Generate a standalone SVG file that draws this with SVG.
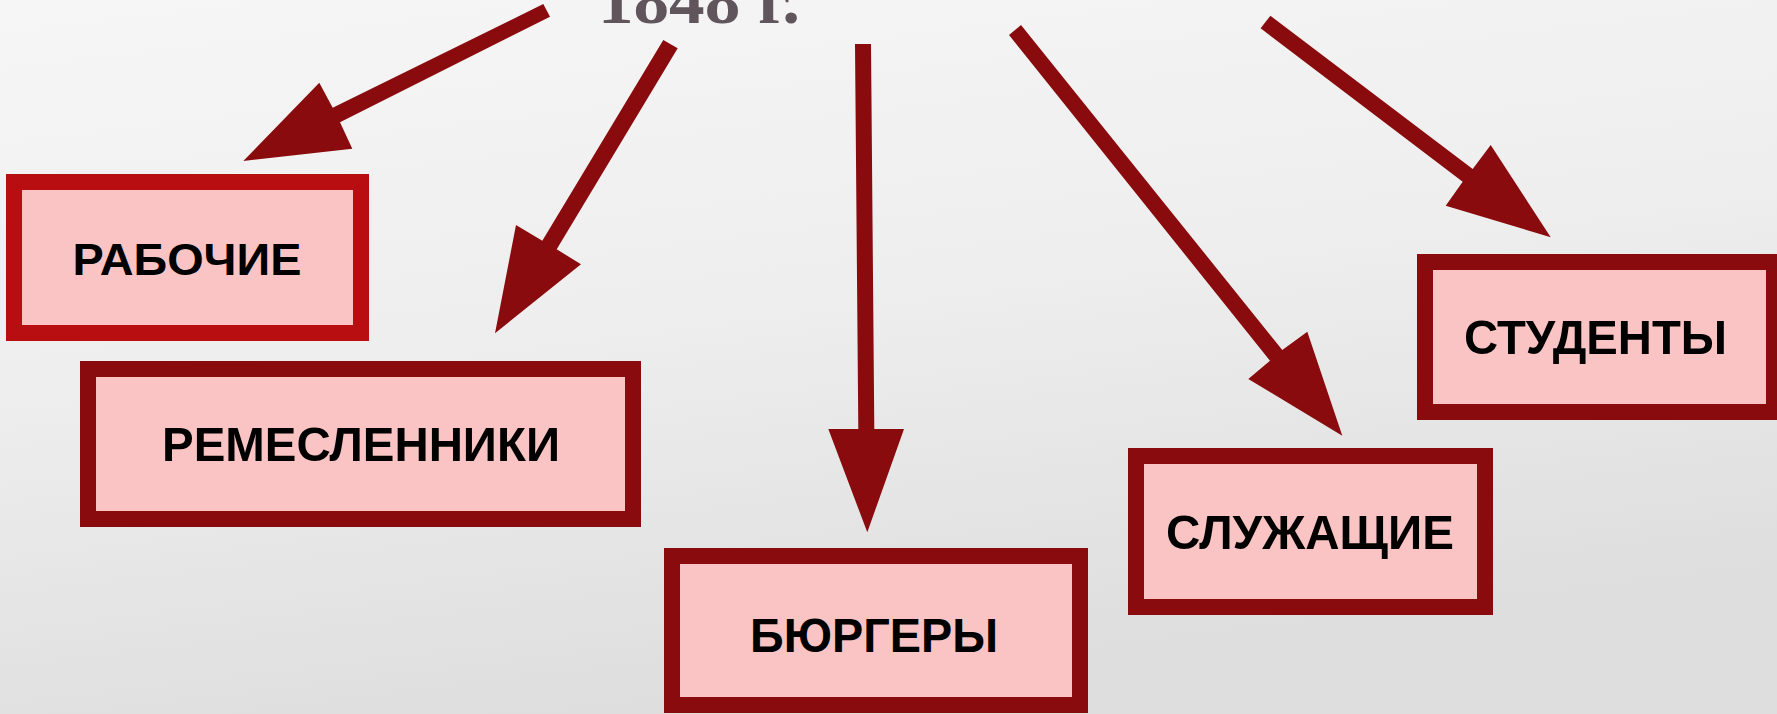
<svg xmlns="http://www.w3.org/2000/svg" width="1777" height="714" viewBox="0 0 1777 714">
  <defs>
    <linearGradient id="bg" x1="0" y1="0" x2="0.3" y2="1">
      <stop offset="0" stop-color="#F6F6F6"/>
      <stop offset="0.5" stop-color="#EEEEEE"/>
      <stop offset="1" stop-color="#DEDEDE"/>
    </linearGradient>
    <style>
      .box { fill: #FBC4C4; stroke: #8A0B0E; stroke-width: 16; }
      .box.bright { stroke: #B80E12; }
      .lbl { font-family: "Liberation Sans", Arial, sans-serif; font-weight: bold; fill: #000000; text-anchor: middle; }
      .arrow { fill: #8A0B0E; }
      .title { font-family: "Liberation Serif", "Times New Roman", serif; font-weight: bold; fill: #5F555A; }
    </style>
  </defs>
  <rect x="0" y="0" width="1777" height="714" fill="url(#bg)"/>

  <text class="title" x="598" y="23" font-size="68" textLength="202" lengthAdjust="spacingAndGlyphs">1848 г.</text>

  <g id="connectors">
    <polygon class="arrow" points="543.3,4 550,16.7 340,122.3 352.3,148.7 243.3,161 319.3,82.7 332.7,107.7"/>
    <polygon class="arrow" points="663.3,40 677.7,48.3 556.7,249.3 581,264.3 495,333.3 516,225 542.3,240.7"/>
    <polygon class="arrow" points="855,44 871,44 874.3,429 904,429 867.3,532.3 828.3,429 858.3,429"/>
    <polygon class="arrow" points="1009,35 1021,25 1282.3,350 1307.3,331.7 1342.3,435.7 1248.3,379 1270,360.7"/>
    <polygon class="arrow" points="1260.6,28.3 1270.4,15.7 1472.7,169 1490.7,145 1550.7,237.3 1445.7,205.7 1462.7,181.7"/>
  </g>

  <g id="node-rabochie">
    <rect class="box bright" x="14" y="182" width="347" height="151"/>
    <text class="lbl" x="187" y="275" font-size="45" textLength="229" lengthAdjust="spacingAndGlyphs">РАБОЧИЕ</text>
  </g>
  <g id="node-remeslenniki">
    <rect class="box" x="88" y="369" width="545" height="150"/>
    <text class="lbl" x="361" y="461" font-size="49" textLength="398" lengthAdjust="spacingAndGlyphs">РЕМЕСЛЕННИКИ</text>
  </g>
  <g id="node-burgery">
    <rect class="box" x="672" y="556" width="408" height="149"/>
    <text class="lbl" x="874" y="652" font-size="49" textLength="248" lengthAdjust="spacingAndGlyphs">БЮРГЕРЫ</text>
  </g>
  <g id="node-sluzhashchie">
    <rect class="box" x="1136" y="456" width="349" height="151"/>
    <text class="lbl" x="1310" y="549" font-size="49" textLength="288" lengthAdjust="spacingAndGlyphs">СЛУЖАЩИЕ</text>
  </g>
  <g id="node-studenty">
    <rect class="box" x="1425" y="262" width="349" height="150"/>
    <text class="lbl" x="1595.5" y="354" font-size="49" textLength="263" lengthAdjust="spacingAndGlyphs">СТУДЕНТЫ</text>
  </g>
</svg>
